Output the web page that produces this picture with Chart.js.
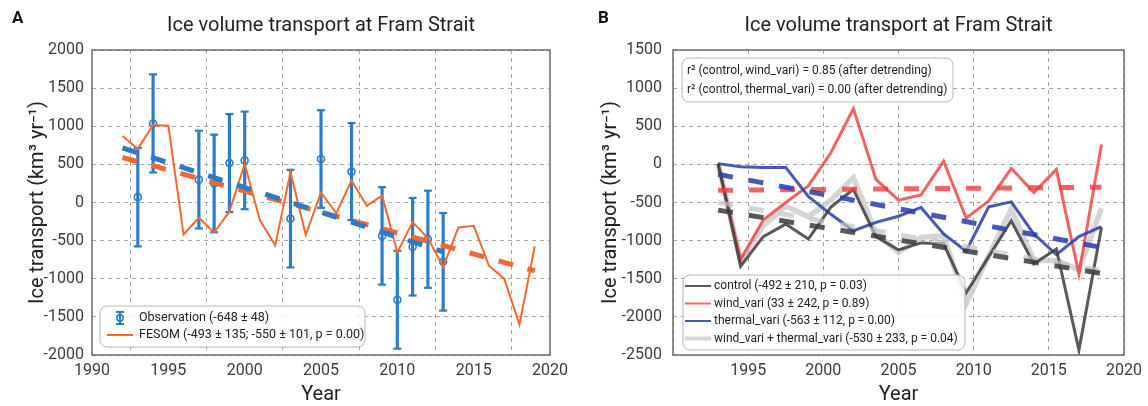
<!DOCTYPE html>
<html>
<head>
<meta charset="utf-8">
<script src="https://cdn.jsdelivr.net/npm/chart.js@4.4.0/dist/chart.umd.min.js"></script>
<style>
  html, body { margin: 0; padding: 0; background: #fff; }
  #wrap { position: relative; width: 1148px; height: 406px; }
  canvas { position: absolute; top: 0; }
  #chartA { left: 0; }
  #chartB { left: 574px; }
</style>
</head>
<body>
<div id="wrap">
  <canvas id="chartA" width="574" height="406"></canvas>
  <canvas id="chartB" width="574" height="406"></canvas>
</div>
<script>
// ---- panel A: observations (with error bars) and FESOM ----
const obsYears  = [1993, 1994, 1997, 1998, 1999, 2000, 2003, 2005, 2007, 2009, 2010, 2011, 2012, 2013];
const obsValues = [70, 1037, 300, 250, 517, 552, -212, 570, 405, -438, -1275, -580, -482, -778];
const obsErr    = [646, 644, 641, 640, 643, 640, 640, 640, 636, 639, 642, 640, 637, 640];

const fesomYears  = [1992, 1993, 1994, 1995, 1996, 1997, 1998, 1999, 2000, 2001, 2002, 2003, 2004, 2005,
                     2006, 2007, 2008, 2009, 2010, 2011, 2012, 2013, 2014, 2015, 2016, 2017, 2018, 2019];
const fesomValues = [873, 703, 1017, 1008, -420, -200, -393, -118, 506, -233, -562, 397, -423, 131,
                     -139, 288, -43, 90, -654, -257, -466, -846, -327, -305, -829, -999, -1601, -576];

const obsTrendYears = [1992, 2013];
const obsTrend      = [715, -646];
const fesomTrendYears = [1992, 2019];
const fesomTrend      = [590, -895];

// ---- panel B: sensitivity runs ----
const runYears = [1993, 1994.5, 1996, 1997.5, 1999, 2000.5, 2002, 2003.5, 2005,
                  2006.5, 2008, 2009.5, 2011, 2012.5, 2014, 2015.5, 2017, 2018.5];
const controlRun = [10, -1335, -948, -783, -979, -560, -326, -948, -1122, -1030, -1040, -1685, -1210, -740, -1305, -1110, -2436, -827];
const windRun    = [10, -1250, -731, -500, -283, 152, 731, -196, -470, -400, 43, -705, -479, -52, -370, -65, -1436, 261];
const thermalRun = [10, -30, -40, -40, -420, -655, -870, -761, -680, -565, -913, -1140, -557, -492, -913, -1183, -948, -818];
const comboRun   = [10, -1262, -805, -544, -687, -470, -174, -905, -1153, -957, -935, -1827, -1196, -587, -1261, -1261, -1384, -576];

const runTrendYears = [1993, 2018.5];
const controlTrend = [-600, -1430];
const windTrend    = [-340, -300];
const thermalTrend = [-130, -1090];
const comboTrend   = [-500, -1395];

const yTicksA = [-2000, 2000];
const yTicksB = [-2500, 1500];

const BLUE = '#2a7bc8';
const ORANGE = '#f4672f';
const C_CONTROL = 'rgba(60,60,60,0.85)';
const C_WIND = 'rgba(240,60,60,0.8)';
const C_THERMAL = 'rgba(45,65,175,0.88)';
const C_COMBO = 'rgba(195,195,195,0.7)';

const pts = (xs, ys) => xs.map((x, i) => ({ x: x, y: ys[i] }));

// frame, panel letter, title and axis titles
const panelText = {
  id: 'panelText',
  afterDraw(chart, args, o) {
    const ctx = chart.ctx, a = chart.chartArea;
    const cx = (a.left + a.right) / 2;
    ctx.save();
    ctx.strokeStyle = '#6a6a6a';
    ctx.lineWidth = 1.5;
    ctx.strokeRect(a.left, a.top, a.right - a.left, a.bottom - a.top);
    ctx.fillStyle = '#111';
    ctx.textBaseline = 'middle';
    ctx.textAlign = 'left';
    ctx.font = 'bold 17px Roboto';
    ctx.fillText(o.letter, o.letterX, 19);
    ctx.fillStyle = '#222';
    ctx.textAlign = 'center';
    ctx.font = '20px Roboto';
    ctx.fillText(o.title, cx, 26);
    ctx.fillText('Year', cx, 395);
    ctx.translate(o.yTitleX, (a.top + a.bottom) / 2);
    ctx.rotate(-Math.PI / 2);
    ctx.fillText('Ice transport (km\u00b3 yr\u207b\u00b9)', 0, 0);
    ctx.restore();
  }
};

// rounded legend / note boxes drawn inside the plot
const boxes = {
  id: 'boxes',
  afterDraw(chart, args, o) {
    const ctx = chart.ctx;
    (o.list || []).forEach(b => {
      ctx.save();
      ctx.beginPath();
      ctx.roundRect(b.x, b.y, b.w, b.h, 7);
      ctx.fillStyle = 'rgba(255,255,255,0.85)';
      ctx.fill();
      ctx.strokeStyle = '#b5b5b5';
      ctx.lineWidth = 1;
      ctx.stroke();
      ctx.font = b.font;
      ctx.textBaseline = 'middle';
      ctx.textAlign = 'left';
      b.items.forEach(it => {
        if (it.kind === 'err') {
          ctx.strokeStyle = it.color;
          ctx.lineWidth = 2.2;
          ctx.beginPath();
          ctx.moveTo(it.sx, it.y - 6); ctx.lineTo(it.sx, it.y + 6);
          ctx.moveTo(it.sx - 4, it.y - 6); ctx.lineTo(it.sx + 4, it.y - 6);
          ctx.moveTo(it.sx - 4, it.y + 6); ctx.lineTo(it.sx + 4, it.y + 6);
          ctx.stroke();
          ctx.lineWidth = 1.5;
          ctx.beginPath();
          ctx.arc(it.sx, it.y, 3.2, 0, Math.PI * 2);
          ctx.stroke();
        } else if (it.kind === 'line') {
          ctx.strokeStyle = it.color;
          ctx.lineWidth = it.lw;
          ctx.beginPath();
          ctx.moveTo(it.sx, it.y); ctx.lineTo(it.ex, it.y);
          ctx.stroke();
        }
        ctx.fillStyle = '#222';
        ctx.fillText(it.text, b.tx, it.y);
      });
      ctx.restore();
    });
  }
};

const tickFont = { family: 'Roboto', size: 16 };
const tickColor = '#3c3c3c';
const gridColor = '#a8a8a8';

function makeScales(ylim, yWidth, yPad, hide1990) {
  return {
    x: {
      type: 'linear', min: 1990, max: 2020, offset: false,
      ticks: {
        stepSize: 5, padding: 6, color: tickColor, font: tickFont, maxRotation: 0,
        callback: v => (hide1990 && v === 1990) ? '' : String(v)
      },
      grid: { color: gridColor, drawTicks: false, lineWidth: 1 },
      border: { display: false, dash: [4, 4] },
      afterFit: s => { s.height = 51; }
    },
    y: {
      min: ylim[0], max: ylim[1],
      ticks: { stepSize: 500, padding: yPad, color: tickColor, font: tickFont, callback: v => String(v) },
      grid: { color: gridColor, drawTicks: false, lineWidth: 1 },
      border: { display: false, dash: [4, 4] },
      afterFit: s => { s.width = yWidth; }
    }
  };
}

const common = {
  responsive: false,
  animation: false,
  events: [],
  plugins: { legend: { display: false }, tooltip: { enabled: false } }
};

// ---------- Panel A ----------
new Chart(document.getElementById('chartA'), {
  type: 'line',
  data: {
    datasets: [
      {
        type: 'line', data: pts(obsTrendYears, obsTrend), borderColor: BLUE, borderWidth: 5,
        borderDash: [15, 15], pointRadius: 0, order: 1
      },
      {
        type: 'line', data: pts(fesomTrendYears, fesomTrend), borderColor: ORANGE, borderWidth: 5,
        borderDash: [15, 15], pointRadius: 0, order: 2
      },
      {
        type: 'line', data: pts(fesomYears, fesomValues), borderColor: ORANGE, borderWidth: 2,
        pointRadius: 0, tension: 0, order: 3
      },
      {
        type: 'line', showLine: false,
        data: obsYears.map((x, i) => ({ x: x, y: obsValues[i] })),
        pointStyle: 'circle', pointRadius: 3.5, pointBorderWidth: 1.6,
        pointBorderColor: BLUE, pointBackgroundColor: 'rgba(0,0,0,0)', order: 4
      },
      {
        type: 'line', showLine: false,
        data: obsYears.flatMap((x, i) => [{ x: x, y: obsValues[i] - obsErr[i] }, { x: x, y: obsValues[i] + obsErr[i] }]),
        pointStyle: 'line', pointRadius: 4, pointBorderWidth: 2.2, pointBorderColor: BLUE, order: 5
      },
      {
        type: 'bar',
        data: obsYears.map((x, i) => ({ x: x, y: [obsValues[i] - obsErr[i], obsValues[i] + obsErr[i]] })),
        backgroundColor: BLUE, borderWidth: 0, barThickness: 2.5, grouped: false, order: 6
      }
    ]
  },
  options: Object.assign({}, common, {
    layout: { autoPadding: false, padding: { top: 50, right: 23, left: 0, bottom: 0 } },
    scales: makeScales(yTicksA, 92, 8, false),
    plugins: Object.assign({}, common.plugins, {
      panelText: { letter: 'A', letterX: 12, title: 'Ice volume transport at Fram Strait', yTitleX: 38 },
      boxes: {
        list: [{
          x: 100, y: 306, w: 265, h: 41, tx: 139, font: '12.5px Roboto',
          items: [
            { kind: 'err', color: BLUE, sx: 120, y: 318, text: 'Observation (-648 \u00b1 48)' },
            { kind: 'line', color: ORANGE, lw: 2, sx: 107, ex: 133, y: 335, text: 'FESOM (-493 \u00b1 135; -550 \u00b1 101, p = 0.00)' }
          ]
        }]
      }
    })
  }),
  plugins: [panelText, boxes]
});

// ---------- Panel B ----------
new Chart(document.getElementById('chartB'), {
  type: 'line',
  data: {
    datasets: [
      { data: pts(runTrendYears, controlTrend), borderColor: C_CONTROL, borderWidth: 5, borderDash: [15, 16], pointRadius: 0, order: 1 },
      { data: pts(runTrendYears, comboTrend), borderColor: C_COMBO, borderWidth: 5, borderDash: [15, 16], pointRadius: 0, order: 2 },
      { data: pts(runTrendYears, thermalTrend), borderColor: C_THERMAL, borderWidth: 5, borderDash: [15, 16], pointRadius: 0, order: 3 },
      { data: pts(runTrendYears, windTrend), borderColor: C_WIND, borderWidth: 5, borderDash: [15, 16], pointRadius: 0, order: 4 },
      { data: pts(runYears, controlRun), borderColor: C_CONTROL, borderWidth: 3, pointRadius: 0, order: 5 },
      { data: pts(runYears, thermalRun), borderColor: C_THERMAL, borderWidth: 3, pointRadius: 0, order: 6 },
      { data: pts(runYears, windRun), borderColor: C_WIND, borderWidth: 3, pointRadius: 0, order: 7 },
      { data: pts(runYears, comboRun), borderColor: C_COMBO, borderWidth: 5.5, pointRadius: 0, order: 8 }
    ]
  },
  options: Object.assign({}, common, {
    layout: { autoPadding: false, padding: { top: 50, right: 16, left: 0, bottom: 0 } },
    scales: makeScales(yTicksB, 99, 11, true),
    plugins: Object.assign({}, common.plugins, {
      panelText: { letter: 'B', letterX: 24, title: 'Ice volume transport at Fram Strait', yTitleX: 37 },
      boxes: {
        list: [
          {
            x: 108, y: 58, w: 271, h: 44, tx: 113, font: '12px Roboto',
            items: [
              { kind: 'none', y: 71, text: 'r\u00b2 (control, wind_vari) = 0.85 (after detrending)' },
              { kind: 'none', y: 90, text: 'r\u00b2 (control, thermal_vari) = 0.00 (after detrending)' }
            ]
          },
          {
            x: 109, y: 275, w: 282, h: 75, tx: 140, font: '12px Roboto',
            items: [
              { kind: 'line', color: C_CONTROL, lw: 2, sx: 111, ex: 137, y: 286, text: 'control (-492 \u00b1 210, p = 0.03)' },
              { kind: 'line', color: C_WIND, lw: 2, sx: 111, ex: 137, y: 303.5, text: 'wind_vari (33 \u00b1 242, p = 0.89)' },
              { kind: 'line', color: C_THERMAL, lw: 2, sx: 111, ex: 137, y: 321, text: 'thermal_vari (-563 \u00b1 112, p = 0.00)' },
              { kind: 'line', color: C_COMBO, lw: 4, sx: 111, ex: 137, y: 338.5, text: 'wind_vari + thermal_vari (-530 \u00b1 233, p = 0.04)' }
            ]
          }
        ]
      }
    })
  }),
  plugins: [panelText, boxes]
});
</script>
</body>
</html>
